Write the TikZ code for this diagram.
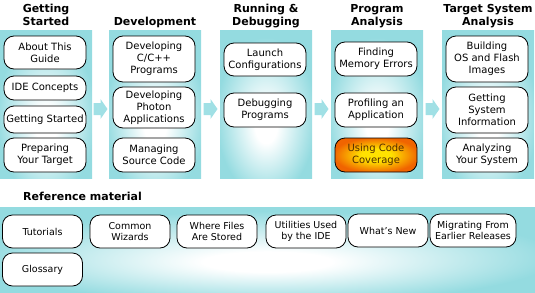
\documentclass[tikz,border=0pt]{standalone}
\usepackage{fontspec}
\setmainfont{DejaVu Sans}
\usetikzlibrary{calc,positioning}
\definecolor{PanelCyan}{RGB}{148,219,224}
\definecolor{ArrowCyan}{RGB}{160,224,229}
\definecolor{CovYellow}{RGB}{255,226,0}
\definecolor{CovOrange}{RGB}{240,100,0}
\definecolor{CovText}{RGB}{80,45,0}
\pgfdeclareradialshading{panelglow}{\pgfpoint{0bp}{-8bp}}{%
  color(0bp)=(white); color(6bp)=(white);
  color(27bp)=(PanelCyan); color(60bp)=(PanelCyan)}
\pgfdeclareradialshading{covglow}{\pgfpoint{0bp}{0bp}}{%
  color(0bp)=(CovYellow); color(9bp)=(CovYellow);
  color(26bp)=(CovOrange); color(50bp)=(CovOrange)}

\begin{document}
\begin{tikzpicture}[x=1pt,y=-1pt,
    panel/.style={shade,shading=panelglow,inner sep=0pt,outer sep=0pt},
    topic/.style={draw,line width=0.8pt,fill=white,rounded corners=10pt,
      align=center,inner sep=0pt,minimum width=82pt,
      font=\fontsize{10}{12}\selectfont},
    reftopic/.style={topic,minimum width=80pt,minimum height=33pt,
      font=\fontsize{9.5}{11.5}\selectfont},
    hilite/.style={shade,shading=covglow,text=CovText},
    head/.style={align=center,inner sep=0pt,text depth=0pt,
      font=\fontsize{11}{13.5}\selectfont\bfseries}]
  \useasboundingbox (0,0) rectangle (535,292);
  % the five columns
  \foreach \n/\x in {p1/46,p2/155,p3/266,p4/377,p5/488}
    \node[panel,minimum width=92pt,minimum height=148pt] (\n) at (\x,104) {};
  \foreach \a/\b in {p1/p2,p2/p3,p3/p4,p4/p5}
    \fill[ArrowCyan] ($(\a.east)!.5!(\b.west)+(0,5)$)
      ++(-7,-6) -- ++(7,0) -- ++(0,-4) -- ++(7,10) -- ++(-7,10)
      -- ++(0,-4) -- ++(-7,0) -- cycle;
  \node[head,above=4pt of p1] (h1) {Getting\\Started};
  \node[head,above=4pt of p2] (h2) {Development};
  \node[head,above=4pt of p3] (h3) {Running \&\\Debugging};
  \node[head,above=4pt of p4] (h4) {Program\\Analysis};
  \node[head,above=4pt of p5] (h5) {Target System\\Analysis};

  \node[topic,minimum height=33pt] (about) at (45,52.5) {About This\\Guide};
  \node[topic,minimum height=24pt] (ide) at (45,88) {IDE Concepts};
  \node[topic,minimum height=27pt] (start) at (45,119.5) {Getting Started};
  \node[topic,minimum height=34pt] (prep) at (45,155) {Preparing\\Your Target};

  \node[topic,minimum height=46pt] (cpp) at (154,59) {Developing\\C/C++\\Programs};
  \node[topic,minimum height=41pt] (photon) at (154,107.5) {Developing\\Photon\\Applications};
  \node[topic,minimum height=34pt] (source) at (154,155) {Managing\\Source Code};

  \node[topic,minimum height=33pt] (launch) at (265,59.5) {Launch\\Configurations};
  \node[topic,minimum height=34pt] (debug) at (265,110) {Debugging\\Programs};

  \node[topic,minimum height=34pt] (memory) at (376,59) {Finding\\Memory Errors};
  \node[topic,minimum height=34pt] (profile) at (376,110) {Profiling an\\Application};
  \node[topic,hilite,minimum height=34pt] (coverage) at (376,155) {Using Code\\Coverage};

  \node[topic,minimum height=46pt] (flash) at (487,59) {Building\\OS and Flash\\Images};
  \node[topic,minimum height=46pt] (sysinfo) at (487,110) {Getting\\System\\Information};
  \node[topic,minimum height=34pt] (analyze) at (487,155) {Analyzing\\Your System};

  % reference material
  \node[anchor=base west,inner sep=0pt,font=\fontsize{11}{13}\selectfont\bfseries]
    (reflabel) at (23,200.5) {Reference material};
  \node[panel,minimum width=535pt,minimum height=85pt] (refp) at (267.5,249.5) {};
  \node[reftopic] (tut) at (42.5,231.5) {Tutorials};
  \node[reftopic] (wiz) at (130,231.5) {Common\\Wizards};
  \node[reftopic] (files) at (217,231.5) {Where Files\\Are Stored};
  \node[reftopic] (util) at (306,231.5) {Utilities Used\\by the IDE};
  \node[reftopic] (new) at (388,230.5) {What's New};
  \node[reftopic,minimum width=86pt] (migr) at (473,230.5) {Migrating From\\Earlier Releases};
  \node[reftopic] (gloss) at (42.5,269.5) {Glossary};
\end{tikzpicture}
\end{document}
